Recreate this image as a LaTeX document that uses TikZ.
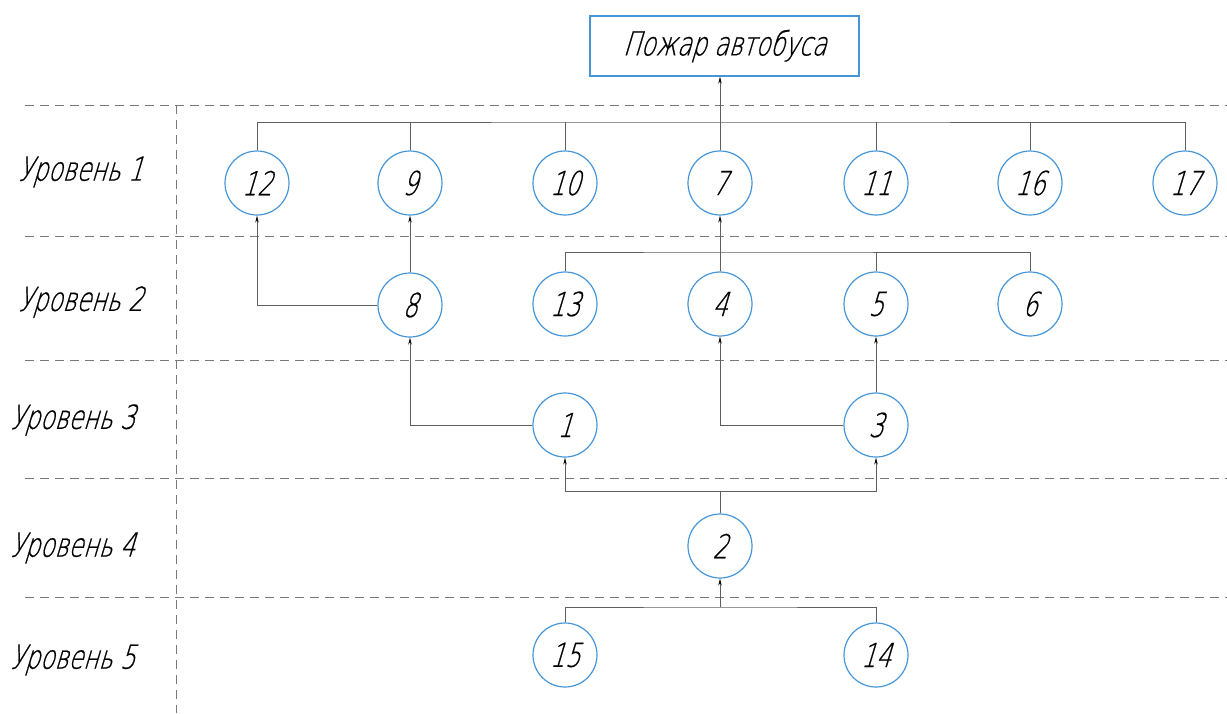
\documentclass[tikz,border=0pt]{standalone}
\usepackage{fontspec}
\setmainfont{DejaVu Sans ExtraLight}[FakeSlant=0.3,FakeStretch=0.72,FakeBold=0.6]
\usetikzlibrary{arrows.meta}
\definecolor{cblue}{RGB}{70,150,215}
\definecolor{lgray}{RGB}{95,95,95}
\definecolor{dgray}{RGB}{120,120,120}
\begin{document}
\begin{tikzpicture}[x=1pt,y=-1pt,
  ev/.style={circle,draw=cblue,line width=1.2pt,minimum size=64pt,inner sep=0pt,font=\fontsize{33}{33}\selectfont},
  topbox/.style={draw=cblue,line width=1.2pt,minimum width=269pt,minimum height=60pt,inner sep=0pt,font=\fontsize{33}{33}\selectfont},
  lvl/.style={anchor=west,inner sep=0pt,font=\fontsize{33}{33}\selectfont},
  conn/.style={draw=lgray,line width=0.8pt},
  arr/.style={conn,-{Stealth[length=7pt,width=3.5pt,color=black]}},
  sep/.style={draw=dgray,line width=0.8pt,dash pattern=on 9pt off 6pt}]
\useasboundingbox (0,0) rectangle (1227,713);
% separators
\foreach \yy in {105,236,360,478,597}
  \draw[sep] (25,\yy) -- (1227,\yy);
\draw[sep] (176,105) -- (176,713);
% level labels
\node[lvl] (L1) at (18,172) {Уровень 1};
\node[lvl] (L2) at (18,302) {Уровень 2};
\node[lvl] (L3) at (10,420) {Уровень 3};
\node[lvl] (L4) at (10,548) {Уровень 4};
\node[lvl] (L5) at (10,660) {Уровень 5};
% top
\node[topbox] (top) at (724.5,46) {Пожар автобуса};
% level 1
\node[ev] (n12) at (257,183) {12};
\node[ev] (n9) at (410,183) {9};
\node[ev] (n10) at (565,183) {10};
\node[ev] (n7) at (720,183) {7};
\node[ev] (n11) at (876,183) {11};
\node[ev] (n16) at (1030,183) {16};
\node[ev] (n17) at (1185,183) {17};
% level 2
\node[ev] (n8) at (410,305) {8};
\node[ev] (n13) at (565,304) {13};
\node[ev] (n4) at (720,304) {4};
\node[ev] (n5) at (876,304) {5};
\node[ev] (n6) at (1030,304) {6};
% level 3
\node[ev] (n1) at (565,425) {1};
\node[ev] (n3) at (876,425) {3};
% level 4
\node[ev] (n2) at (720,546) {2};
% level 5
\node[ev] (n15) at (565,655) {15};
\node[ev] (n14) at (876,655) {14};
% coordinates
\coordinate (b1) at (720,122);
\coordinate (b2) at (720,252);
\coordinate (b4) at (720,491);
\coordinate (b5) at (720,607);
% level 1 bus
\draw[conn] (n12.north) |- (b1) -| (n17.north);
\foreach \n in {n9,n10,n11,n16}
  \draw[conn] (\n.north) -- (\n.north |- b1);
\draw[arr] (n7.north) -- (n7.north |- top.south);
% level 2
\draw[arr] (n8.west) -| (n12.south);
\draw[arr] (n8.north) -- (n9.south);
\draw[conn] (n13.north) |- (b2) -| (n6.north);
\draw[conn] (n5.north) -- (n5.north |- b2);
\draw[arr] (n4.north) -- (n7.south);
% level 3
\draw[arr] (n1.west) -| (n8.south);
\draw[arr] (n3.west) -| (n4.south);
\draw[arr] (n3.north) -- (n5.south);
% level 4
\draw[conn] (n2.north) -- (b4);
\draw[arr] (b4) -| (n1.south);
\draw[arr] (b4) -| (n3.south);
% level 5
\draw[conn] (n15.north) |- (b5) -| (n14.north);
\draw[arr] (b5) -- (n2.south);
\end{tikzpicture}
\end{document}
